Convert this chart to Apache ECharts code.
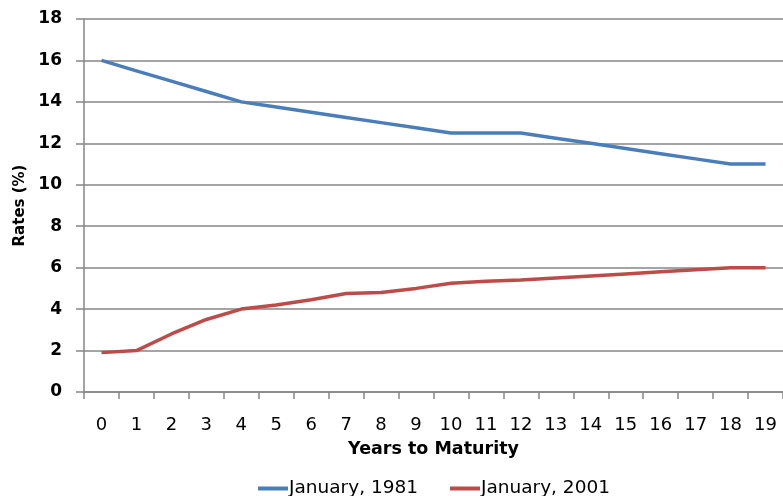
<!DOCTYPE html>
<html>
<head>
<meta charset="utf-8">
<script src="https://cdn.jsdelivr.net/npm/echarts@6/dist/echarts.min.js"></script>
<style>html,body{margin:0;padding:0;background:#fff}#c{width:783px;height:496px}</style>
</head>
<body>
<div id="c"></div>
<script>
var categories = ['0','1','2','3','4','5','6','7','8','9','10','11','12','13','14','15','16','17','18','19'];
var rates1981 = [16, 15.5, 15, 14.5, 14, 13.75, 13.5, 13.25, 13, 12.75, 12.5, 12.5, 12.5, 12.25, 12, 11.75, 11.5, 11.25, 11, 11];
var rates2001 = [1.9, 2.0, 2.8, 3.5, 4.0, 4.2, 4.45, 4.75, 4.8, 5.0, 5.25, 5.35, 5.4, 5.5, 5.6, 5.7, 5.8, 5.9, 6.0, 6.0];
var yTicks = [0, 2, 4, 6, 8, 10, 12, 14, 16, 18];
var seriesNames = ['January, 1981', 'January, 2001'];

var font = 'DejaVu Sans';
var chart = echarts.init(document.getElementById('c'), null, {renderer: 'canvas'});
chart.setOption({
  animation: false,
  backgroundColor: '#ffffff',
  grid: {left: 84, right: -5, top: 19, bottom: 104, containLabel: false},
  legend: {
    top: 474,
    left: 253,
    itemGap: 32,
    itemWidth: 30,
    itemHeight: 4,
    icon: 'rect',
    textStyle: {fontFamily: font, fontSize: 18.5, color: '#000', padding: [0, 0, 0, -4]},
    data: seriesNames
  },
  xAxis: {
    type: 'category',
    data: categories,
    boundaryGap: true,
    name: 'Years to Maturity',
    nameLocation: 'middle',
    nameGap: 48,
    nameTextStyle: {fontFamily: font, fontSize: 17.5, fontWeight: 'bold', color: '#000'},
    axisLine: {lineStyle: {color: '#868686', width: 1.5}},
    axisTick: {show: true, alignWithLabel: false, length: 7, lineStyle: {color: '#868686', width: 1.5}},
    axisLabel: {interval: 0, margin: 24, fontFamily: font, fontSize: 18, color: '#000'},
    splitLine: {show: false}
  },
  yAxis: {
    type: 'value',
    min: yTicks[0],
    max: yTicks[yTicks.length - 1],
    interval: 2,
    name: 'Rates (%)',
    nameLocation: 'middle',
    nameGap: 54,
    nameRotate: 90,
    nameTextStyle: {fontFamily: font, fontSize: 15, fontWeight: 'bold', color: '#000'},
    axisLine: {show: true, lineStyle: {color: '#868686', width: 1.5}},
    axisTick: {show: true, length: 8, lineStyle: {color: '#868686', width: 1.5}},
    axisLabel: {margin: 22, fontFamily: font, fontSize: 17, fontWeight: 'bold', color: '#000'},
    splitLine: {show: true, lineStyle: {color: '#868686', width: 1.5}}
  },
  series: [
    {
      name: seriesNames[0],
      type: 'line',
      data: rates1981,
      symbol: 'none',
      lineStyle: {color: '#4A7EBB', width: 3.5},
      itemStyle: {color: '#4A7EBB'}
    },
    {
      name: seriesNames[1],
      type: 'line',
      data: rates2001,
      symbol: 'none',
      lineStyle: {color: '#BE4B48', width: 3.5},
      itemStyle: {color: '#BE4B48'}
    }
  ]
});
</script>
</body>
</html>
